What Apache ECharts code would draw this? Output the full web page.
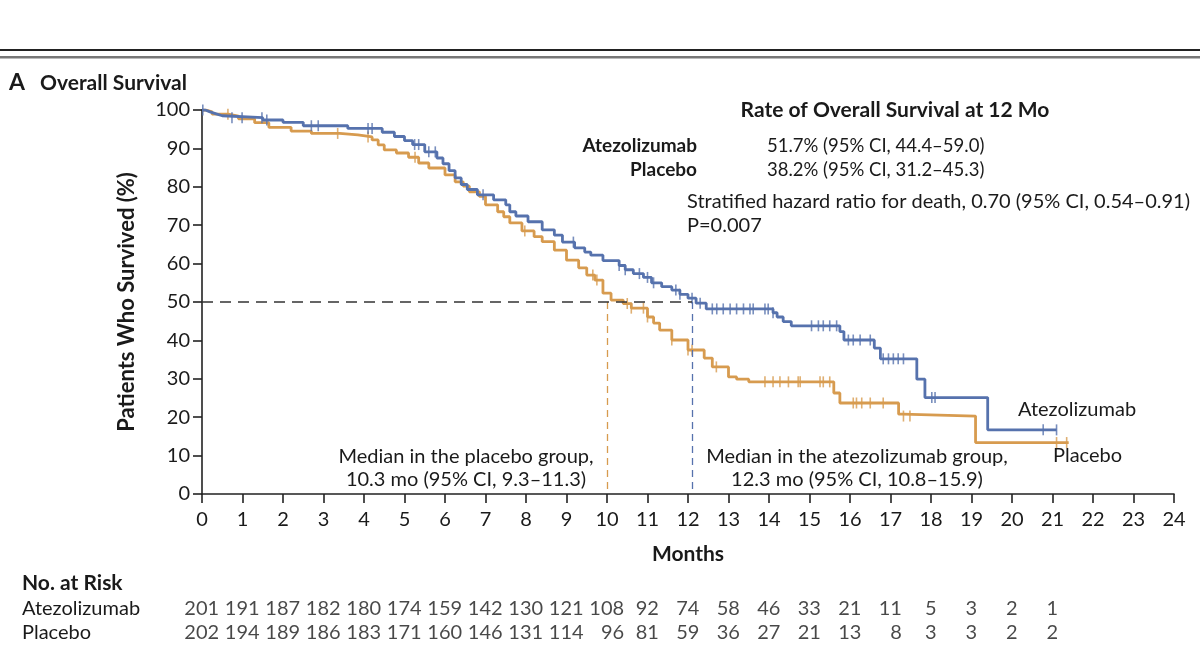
<!DOCTYPE html>
<html>
<head>
<meta charset="utf-8">
<script src="https://cdn.jsdelivr.net/npm/echarts@6/dist/echarts.min.js"></script>
<style>
html,body{margin:0;padding:0;background:#fff;}
#c{width:1200px;height:658px;}
</style>
</head>
<body>
<div id="c"></div>
<script>
// ---------- data ----------
const months = [0,1,2,3,4,5,6,7,8,9,10,11,12,13,14,15,16,17,18,19,20,21,22,23,24];
const yTicks = [0,10,20,30,40,50,60,70,80,90,100];

// Kaplan-Meier steps: [month, survival %] (level starting at that month)
const atezoSteps = [[0,100],[0.08,99.5],[0.2,99.0],[0.35,98.5],[0.5,98.0],[1.5,97.4],[2.0,96.8],[2.5,95.9],[3.6,95.2],[4.45,94.2],[4.75,93.1],[5.0,92.0],[5.2,91.0],[5.5,89.1],[5.8,87.5],[5.95,86.0],[6.1,84.2],[6.25,82.3],[6.4,80.6],[6.55,79.3],[6.8,77.9],[7.2,76.6],[7.5,75.3],[7.6,73.5],[7.75,72.4],[8.05,70.9],[8.4,68.8],[8.7,67.4],[8.9,65.6],[9.2,64.1],[9.45,63.0],[9.6,62.2],[9.9,60.8],[10.3,59.5],[10.45,58.4],[10.65,57.4],[10.9,56.4],[11.1,55.0],[11.35,54.0],[11.6,53.1],[11.8,52.0],[12.0,51.0],[12.2,49.7],[12.45,48.2],[14.1,47.2],[14.2,46.1],[14.35,44.9],[14.55,43.8],[15.75,42.3],[15.85,40.1],[16.6,38.0],[16.75,35.2],[17.65,29.9],[17.85,25.1],[19.4,16.7],[21.1,16.7]];
const placeboSteps = [[0,100],[0.1,99.5],[0.25,98.9],[0.65,98.4],[0.9,97.7],[1.3,96.7],[1.65,95.5],[2.2,94.5],[2.7,93.9],[3.4,93.5],[3.85,93.0],[4.2,92.2],[4.35,90.9],[4.5,89.6],[4.8,88.8],[5.1,87.7],[5.35,86.2],[5.6,84.9],[6.0,83.1],[6.25,81.3],[6.45,80.2],[6.6,78.7],[6.85,77.5],[7.0,75.3],[7.3,73.5],[7.45,72.2],[7.6,70.6],[7.9,68.5],[8.2,67.0],[8.4,65.7],[8.7,63.5],[9.0,60.9],[9.3,58.9],[9.5,57.0],[9.7,55.7],[9.9,52.3],[10.1,50.5],[10.4,49.6],[10.6,48.4],[11.0,46.1],[11.15,44.5],[11.3,42.7],[11.6,40.1],[12.0,37.5],[12.4,35.4],[12.6,33.1],[13.0,30.5],[13.2,29.9],[13.5,29.2],[15.6,26.3],[15.75,23.7],[17.2,20.8],[17.3,20.3],[19.1,13.4],[21.4,13.4]];

// censoring times (months)
const atezoCensor = [0.02,0.74,0.99,1.48,1.6,2.7,2.87,4.1,4.2,5.25,5.35,5.6,5.76,6.94,9.17,10.3,10.45,10.8,11.0,11.15,11.7,11.8,12.1,12.3,12.6,12.71,12.87,13.04,13.2,13.37,13.53,13.61,13.9,13.98,14.1,15.05,15.22,15.34,15.5,15.67,15.96,16.08,16.25,16.5,16.82,16.95,17.07,17.19,17.32,18.02,18.1,20.77,21.1];
const placeboCensor = [0.64,3.35,4.1,5.26,7.97,9.65,9.75,10.5,10.6,10.9,11.0,11.6,12.0,12.1,12.7,13.9,14.1,14.27,14.48,14.72,14.77,15.26,15.34,15.5,16.08,16.16,16.29,16.5,16.82,17.32,17.48,21.1,21.35];

// numbers at risk (months 0..21)
const riskMonths = [0,1,2,3,4,5,6,7,8,9,10,11,12,13,14,15,16,17,18,19,20,21];
const atezoRisk = [201,191,187,182,180,174,159,142,130,121,108,92,74,58,46,33,21,11,5,3,2,1];
const placeboRisk = [202,194,189,186,183,171,160,146,131,114,96,81,59,36,27,21,13,8,3,3,2,2];

// medians
const medianLevel = 50;
const placeboMedianLine = 10.0;
const atezoMedianLine = 12.1;

// ---------- style ----------
const BLUE = '#5672ad';
const ORANGE = '#d79b4f';
const FONT = 'Lato, "Open Sans", "Noto Sans", sans-serif';
const TXT = '#1a1a1a';
const DIGIT_W = 11.4;

function levelAt(steps, t){
  let v = steps[0][1];
  for (const p of steps){ if (p[0] <= t) v = p[1]; else break; }
  return v;
}
const atezoCensorPts = atezoCensor.map(t => [t, levelAt(atezoSteps, t)]);
const placeboCensorPts = placeboCensor.map(t => [t, levelAt(placeboSteps, t)]);

// risk table: columns centred on month ticks, entries right-aligned inside a column
function riskItems(row, vals){
  return riskMonths.map((m,i)=>{
    const w = Math.max(String(atezoRisk[i]).length, String(placeboRisk[i]).length) * DIGIT_W;
    return {value:[m,row,vals[i]], label:{offset:[w/2,0]}};
  });
}
const riskA = riskItems('Atezolizumab', atezoRisk);
const riskP = riskItems('Placebo', placeboRisk);

const chart = echarts.init(document.getElementById('c'), null, {renderer:'canvas'});

function txt(x,y,text,opts){
  return {type:'text', x:x, y:y, style:Object.assign({text:text, fill:TXT, font:'20px '+FONT, textVerticalAlign:'middle'}, opts||{})};
}
const riskLabel = {show:true, position:'inside', align:'right', formatter:p=>String(p.value[2]), color:TXT, fontSize:20, fontFamily:FONT};

const option = {
  backgroundColor:'#fff',
  animation:false,
  grid:[
    {left:202, top:110, width:972, height:384},
    {left:202, top:597, width:972, height:48}
  ],
  xAxis:[
    {gridIndex:0, type:'value', min:0, max:24, interval:1,
     axisLine:{show:true, onZero:false, lineStyle:{color:'#222', width:1.6}},
     axisTick:{show:true, length:9, lineStyle:{color:'#222', width:1.6}},
     axisLabel:{color:TXT, fontSize:20, fontFamily:FONT, margin:16},
     splitLine:{show:false},
     name:'Months', nameLocation:'middle', nameGap:50,
     nameTextStyle:{color:TXT, fontSize:21, fontWeight:'bold', fontFamily:FONT}},
    {gridIndex:1, type:'value', min:0, max:24, show:false}
  ],
  yAxis:[
    {gridIndex:0, type:'value', min:0, max:100, interval:10,
     axisLine:{show:true, lineStyle:{color:'#222', width:1.6}},
     axisTick:{show:true, length:9, lineStyle:{color:'#222', width:1.6}},
     axisLabel:{color:TXT, fontSize:20, fontFamily:FONT, margin:12},
     splitLine:{show:false},
     name:'Patients Who Survived (%)', nameLocation:'middle', nameGap:64, nameRotate:90,
     nameTextStyle:{color:TXT, fontSize:22, fontWeight:'bold', fontFamily:FONT}},
    {gridIndex:1, type:'category', data:['Atezolizumab','Placebo'], inverse:true, show:false}
  ],
  series:[
    {type:'line', name:'Placebo', data:placeboSteps, step:'end', showSymbol:false,
     lineStyle:{color:ORANGE, width:2.8}, z:3,
     markLine:{silent:true, symbol:'none', label:{show:false},
       lineStyle:{color:ORANGE, type:[7,5], width:1.3},
       data:[[{coord:[placeboMedianLine, medianLevel]},{coord:[placeboMedianLine,0]}]]}},
    {type:'line', name:'Atezolizumab', data:atezoSteps, step:'end', showSymbol:false,
     lineStyle:{color:BLUE, width:2.8}, z:4,
     markLine:{silent:true, symbol:'none', label:{show:false},
       data:[
         [{coord:[0, medianLevel], lineStyle:{color:'#333', type:[11,7], width:1.6}},{coord:[atezoMedianLine, medianLevel]}],
         [{coord:[atezoMedianLine, medianLevel], lineStyle:{color:BLUE, type:[7,5], width:1.3}},{coord:[atezoMedianLine,0]}]
       ]}},
    {type:'scatter', data:placeboCensorPts, symbol:'rect', symbolSize:[1.6,11],
     itemStyle:{color:ORANGE}, z:3},
    {type:'scatter', data:atezoCensorPts, symbol:'rect', symbolSize:[1.6,11],
     itemStyle:{color:BLUE}, z:4},
    {type:'scatter', xAxisIndex:1, yAxisIndex:1, data:riskA, symbolSize:0, label:riskLabel},
    {type:'scatter', xAxisIndex:1, yAxisIndex:1, data:riskP, symbolSize:0, label:riskLabel}
  ],
  graphic:[
    {type:'rect', shape:{x:0,y:49,width:1200,height:2}, style:{fill:'#222'}},
    {type:'rect', shape:{x:0,y:56,width:1200,height:2.5}, style:{fill:'#777'}},
    txt(9,83,'A',{font:'bold 23px '+FONT}),
    txt(40,83,'Overall Survival',{font:'bold 21px '+FONT}),
    txt(895,110,'Rate of Overall Survival at 12 Mo',{font:'bold 21px '+FONT, textAlign:'center'}),
    txt(697,146,'Atezolizumab',{font:'bold 19px '+FONT, textAlign:'right'}),
    txt(767,146,'51.7% (95% CI, 44.4\u201359.0)',{font:'18.5px '+FONT}),
    txt(697,170,'Placebo',{font:'bold 19px '+FONT, textAlign:'right'}),
    txt(767,170,'38.2% (95% CI, 31.2\u201345.3)',{font:'18.5px '+FONT}),
    txt(687,202,'Stratified hazard ratio for death, 0.70 (95% CI, 0.54\u20130.91)',{font:'20px '+FONT}),
    txt(687,226,'P=0.007',{font:'20px '+FONT}),
    txt(466,457,'Median in the placebo group,',{textAlign:'center'}),
    txt(466,480,'10.3 mo (95% CI, 9.3\u201311.3)',{textAlign:'center'}),
    txt(857,457,'Median in the atezolizumab group,',{textAlign:'center'}),
    txt(857,480,'12.3 mo (95% CI, 10.8\u201315.9)',{textAlign:'center'}),
    txt(1018,410,'Atezolizumab'),
    txt(1053,456,'Placebo'),
    txt(22,583,'No. at Risk',{font:'bold 21px '+FONT}),
    txt(22,609,'Atezolizumab'),
    txt(22,633,'Placebo')
  ]
};
chart.setOption(option);
</script>
</body>
</html>
